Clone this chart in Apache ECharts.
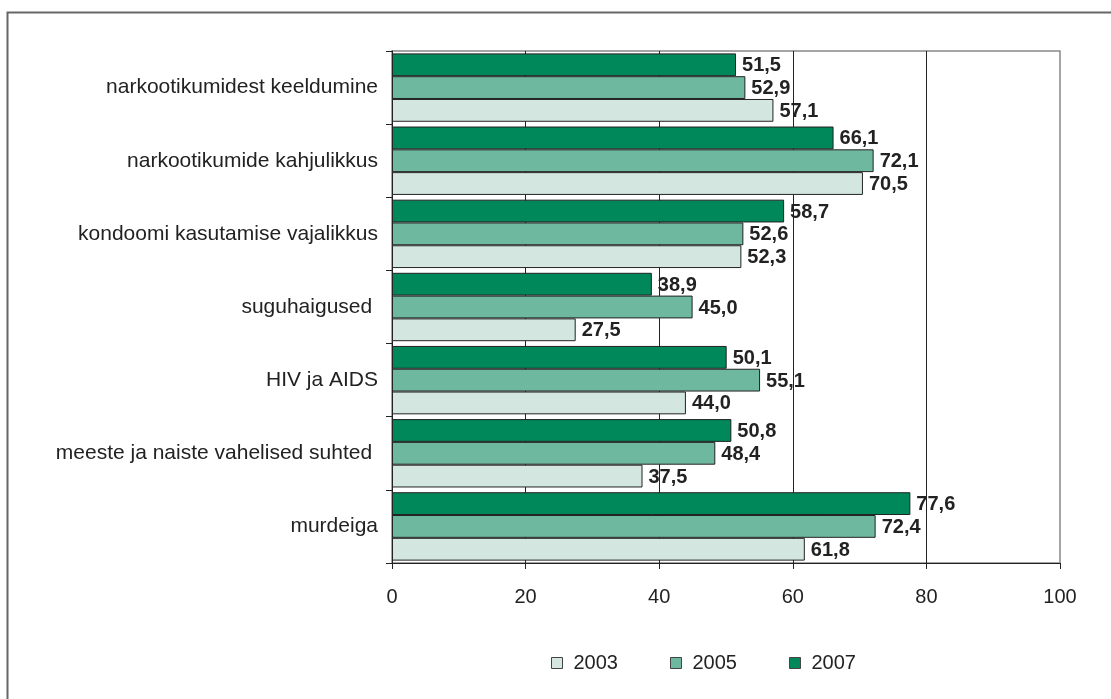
<!DOCTYPE html>
<html><head><meta charset="utf-8">
<script src="https://cdn.jsdelivr.net/npm/echarts@6/dist/echarts.min.js"></script>
<style>html,body{margin:0;padding:0;background:#fff}#c{width:1111px;height:699px}</style>
</head><body><div id="c"></div>
<script>
const categories = ['narkootikumidest keeldumine','narkootikumide kahjulikkus','kondoomi kasutamise vajalikkus','suguhaigused ','HIV ja AIDS','meeste ja naiste vahelised suhted ','murdeiga'];
const v2003 = [57.1, 70.5, 52.3, 27.5, 44.0, 37.5, 61.8];
const v2005 = [52.9, 72.1, 52.6, 45.0, 55.1, 48.4, 72.4];
const v2007 = [51.5, 66.1, 58.7, 38.9, 50.1, 50.8, 77.6];
const xTicks = [0, 20, 40, 60, 80, 100];

const font = '"Liberation Sans", Arial, sans-serif';
function mk(name, data, color) {
  return {
    name, type: 'bar', data,
    barGap: '0%', barCategoryGap: '6.5%',
    itemStyle: { color, borderColor: '#222', borderWidth: 1 },
    label: { show: true, position: 'right', distance: 6, offset: [0, 1], fontFamily: font, fontSize: 20, fontWeight: 'bold', color: '#222',
      formatter: p => p.value.toFixed(1).replace('.', ',') }
  };
}
const chart = echarts.init(document.getElementById('c'), null, { renderer: 'canvas' });
chart.setOption({
  animation: false,
  backgroundColor: '#fff',
  graphic: [{ type: 'rect', shape: { x: 7.5, y: 12.5, width: 1200, height: 800 }, style: { fill: 'none', stroke: '#666', lineWidth: 2 } }],
  grid: { left: 392, top: 51, right: 51, bottom: 136, show: true, borderColor: '#888', borderWidth: 1.5, containLabel: false },
  xAxis: {
    type: 'value', min: 0, max: 100, interval: 20,
    axisLine: { show: true, lineStyle: { color: '#222', width: 1 } },
    axisTick: { show: true, length: 6, lineStyle: { color: '#222' } },
    axisLabel: { fontFamily: font, fontSize: 20, color: '#222', margin: 24, formatter: v => xTicks.includes(v) ? String(v) : '' },
    splitLine: { show: true, showMinLine: false, showMaxLine: false, lineStyle: { color: '#222', width: 1 } }
  },
  yAxis: {
    type: 'category', data: categories, inverse: true,
    axisLine: { show: true, lineStyle: { color: '#222', width: 1 } },
    axisTick: { show: true, length: 6, lineStyle: { color: '#222' } },
    axisLabel: { fontFamily: font, fontSize: 21, color: '#222', margin: 14 }
  },
  legend: {
    data: ['2003', '2005', '2007'], top: 648, left: 546,
    icon: 'rect', itemWidth: 11, itemHeight: 11, itemGap: 52,
    textStyle: { fontFamily: font, fontSize: 20, color: '#222', padding: [0, 0, 0, 6] },
    itemStyle: { borderColor: '#444', borderWidth: 1 }
  },
  series: [mk('2007', v2007, '#00875A'), mk('2005', v2005, '#6FB8A0'), mk('2003', v2003, '#D3E7E0')]
});
</script></body></html>
